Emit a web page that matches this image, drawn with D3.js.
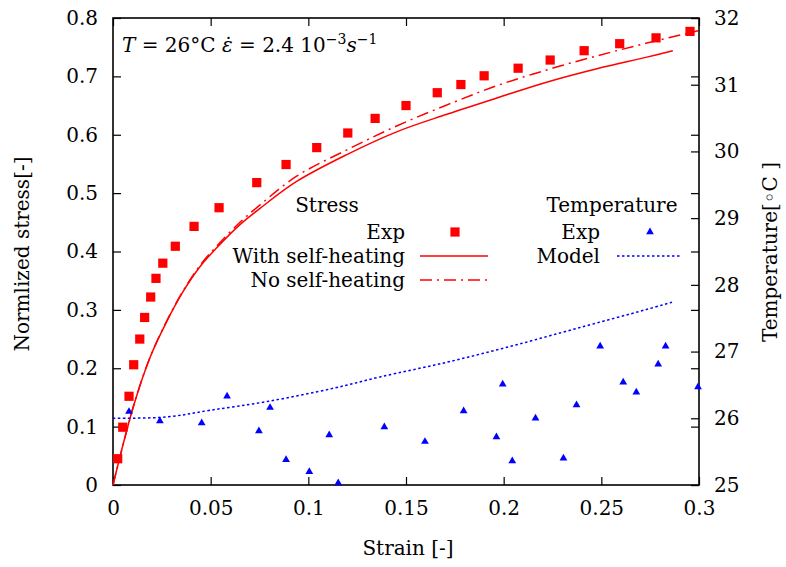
<!DOCTYPE html>
<html>
<head>
<meta charset="utf-8">
<script src="https://cdn.jsdelivr.net/npm/d3@7"></script>
<style>
body { margin: 0; background: #fff; }
</style>
</head>
<body>
<div id="chart"></div>
<script>
// experimental stress (red squares)
var stressExpStrain = [0.0024, 0.0050, 0.0082, 0.0106, 0.0137, 0.0162, 0.0193, 0.0220, 0.0255, 0.0319, 0.0415, 0.0543, 0.0736, 0.0886, 0.1043, 0.1202, 0.1342, 0.1500, 0.1660, 0.1781, 0.1900, 0.2074, 0.2238, 0.2412, 0.2594, 0.2780, 0.2954];
var stressExp = [0.045, 0.099, 0.152, 0.206, 0.250, 0.287, 0.322, 0.354, 0.380, 0.409, 0.443, 0.475, 0.518, 0.549, 0.578, 0.603, 0.628, 0.650, 0.672, 0.686, 0.701, 0.714, 0.728, 0.744, 0.756, 0.766, 0.777];

// model with self-heating (solid)
var heatStrain = [0, 0.0104, 0.019, 0.0275, 0.036, 0.0445, 0.053, 0.065, 0.0753, 0.094, 0.1197, 0.1452, 0.1709, 0.1965, 0.222, 0.2477, 0.2733, 0.2866];
var heatStress = [0, 0.134, 0.219, 0.280, 0.332, 0.374, 0.406, 0.446, 0.474, 0.520, 0.566, 0.605, 0.635, 0.663, 0.690, 0.713, 0.733, 0.744];

// model without self-heating (dash-dot)
var noHeatStrain = [0, 0.0104, 0.019, 0.0275, 0.036, 0.0445, 0.053, 0.065, 0.0753, 0.094, 0.1197, 0.1452, 0.1709, 0.1965, 0.222, 0.2477, 0.2733, 0.2995];
var noHeatStress = [0, 0.134, 0.219, 0.281, 0.333, 0.376, 0.409, 0.450, 0.480, 0.529, 0.574, 0.615, 0.651, 0.684, 0.711, 0.735, 0.757, 0.778];

// experimental temperature (blue triangles)
var tempExpStrain = [0.0082, 0.0240, 0.0454, 0.0584, 0.0747, 0.0804, 0.0886, 0.1005, 0.1107, 0.1153, 0.1389, 0.1597, 0.1795, 0.1963, 0.1995, 0.2044, 0.2163, 0.2306, 0.2373, 0.2494, 0.2612, 0.2679, 0.2791, 0.2829, 0.2995];
var tempExp = [26.10, 25.96, 25.93, 26.33, 25.81, 26.16, 25.38, 25.20, 25.75, 25.03, 25.87, 25.65, 26.11, 25.72, 26.51, 25.36, 26.00, 25.40, 26.20, 27.08, 26.54, 26.39, 26.81, 27.08, 26.47];

// model temperature (blue dotted)
var tempModelStrain = [0, 0.0275, 0.0497, 0.0787, 0.1128, 0.1367, 0.1709, 0.205, 0.239, 0.273, 0.2862];
var tempModel = [26.0, 26.02, 26.12, 26.25, 26.45, 26.62, 26.84, 27.09, 27.36, 27.63, 27.74];

var xTicks = [0, 0.05, 0.1, 0.15, 0.2, 0.25, 0.3];
var yTicks = [0, 0.1, 0.2, 0.3, 0.4, 0.5, 0.6, 0.7, 0.8];
var y2Ticks = [25, 26, 27, 28, 29, 30, 31, 32];

var width = 786, height = 567;
var margin = {top: 18, right: 87, bottom: 82, left: 113};
var red = "#ff0000", blue = "#0000ff";
var font = "DejaVu Serif";
var fontSize = 20;

var svg = d3.select("#chart").append("svg")
    .attr("width", width)
    .attr("height", height)
    .attr("font-family", font);

var x = d3.scaleLinear().domain([0, 0.3]).range([margin.left, width - margin.right]);
var y = d3.scaleLinear().domain([0, 0.8]).range([height - margin.bottom, margin.top]);
var y2 = d3.scaleLinear().domain([25, 32]).range([height - margin.bottom, margin.top]);

function fmt(d) { return String(d); }

function styleAxis(g) {
    g.attr("font-family", font).attr("font-size", fontSize);
    g.select(".domain").remove();
    g.selectAll("line").attr("stroke", "#000").attr("stroke-width", 1.2);
    g.selectAll("text").attr("font-family", font).attr("font-size", fontSize).attr("fill", "#000");
}

// axes, ticks pointing inwards like gnuplot
svg.append("g")
    .attr("transform", "translate(0," + y(0) + ")")
    .call(d3.axisBottom(x).tickValues(xTicks).tickFormat(fmt).tickSizeInner(-8).tickSizeOuter(0).tickPadding(16))
    .call(styleAxis);
svg.append("g")
    .attr("transform", "translate(0," + y(0.8) + ")")
    .call(d3.axisTop(x).tickValues(xTicks).tickFormat("").tickSizeInner(-8).tickSizeOuter(0))
    .call(styleAxis);
svg.append("g")
    .attr("transform", "translate(" + x(0) + ",0)")
    .call(d3.axisLeft(y).tickValues(yTicks).tickFormat(fmt).tickSizeInner(-8).tickSizeOuter(0).tickPadding(15))
    .call(styleAxis);
svg.append("g")
    .attr("transform", "translate(" + x(0.3) + ",0)")
    .call(d3.axisRight(y).tickValues(yTicks).tickFormat("").tickSizeInner(-8).tickSizeOuter(0))
    .call(styleAxis);
svg.append("g")
    .attr("transform", "translate(" + x(0.3) + ",0)")
    .call(d3.axisRight(y2).tickValues(y2Ticks).tickFormat(fmt).tickSizeInner(-8).tickSizeOuter(0).tickPadding(15))
    .call(styleAxis);

// plot border
svg.append("rect")
    .attr("x", x(0))
    .attr("y", y(0.8))
    .attr("width", x(0.3) - x(0))
    .attr("height", y(0) - y(0.8))
    .attr("fill", "none")
    .attr("stroke", "#000")
    .attr("stroke-width", 1.6);

// curves
function drawLine(xs, ys, yScale, color, dash) {
    var pts = xs.map(function(v, i) { return [v, ys[i]]; });
    svg.append("path")
        .datum(pts)
        .attr("fill", "none")
        .attr("stroke", color)
        .attr("stroke-width", 1.5)
        .attr("stroke-dasharray", dash)
        .attr("d", d3.line()
            .x(function(d) { return x(d[0]); })
            .y(function(d) { return yScale(d[1]); })
            .curve(d3.curveCatmullRom.alpha(0.5)));
}
drawLine(heatStrain, heatStress, y, red, null);
drawLine(noHeatStrain, noHeatStress, y, red, "12,5,2,5");
drawLine(tempModelStrain, tempModel, y2, blue, "2.5,2.5");

// points
var square = d3.symbol().type(d3.symbolSquare).size(85);
var triangle = d3.symbol().type(d3.symbolTriangle).size(26);

svg.append("g").selectAll("path")
    .data(stressExpStrain)
    .enter()
    .append("path")
    .attr("d", square)
    .attr("transform", function(d, i) { return "translate(" + x(d) + "," + y(stressExp[i]) + ")"; })
    .attr("fill", red);

svg.append("g").selectAll("path")
    .data(tempExpStrain)
    .enter()
    .append("path")
    .attr("d", triangle)
    .attr("transform", function(d, i) { return "translate(" + x(d) + "," + y2(tempExp[i]) + ")"; })
    .attr("fill", blue);

// text helper
function label(tx, ty, str, anchor, rot) {
    return svg.append("text")
        .attr("transform", "translate(" + tx + "," + ty + ")" + (rot ? " rotate(" + rot + ")" : ""))
        .attr("dy", "0.35em")
        .attr("text-anchor", anchor)
        .attr("font-family", font)
        .attr("font-size", fontSize)
        .attr("fill", "#000")
        .text(str);
}

// legend
label(327, 205, "Stress", "middle");
label(405, 232, "Exp", "end");
label(405, 256, "With self-heating", "end");
label(405, 280, "No self-heating", "end");
label(612, 205, "Temperature", "middle");
label(600, 232, "Exp", "end");
label(600, 256, "Model", "end");

svg.append("path").attr("d", square).attr("transform", "translate(455,232)").attr("fill", red);
svg.append("path").attr("d", triangle).attr("transform", "translate(650,232)").attr("fill", blue);
svg.append("line").attr("x1", 420).attr("x2", 488).attr("y1", 256).attr("y2", 256)
    .attr("stroke", red).attr("stroke-width", 1.5);
svg.append("line").attr("x1", 420).attr("x2", 488).attr("y1", 280).attr("y2", 280)
    .attr("stroke", red).attr("stroke-width", 1.5).attr("stroke-dasharray", "12,5,2,5");
svg.append("line").attr("x1", 617).attr("x2", 682).attr("y1", 256).attr("y2", 256)
    .attr("stroke", blue).attr("stroke-width", 1.5).attr("stroke-dasharray", "2.5,2.5");

// condition annotation
var note = svg.append("text")
    .attr("x", 122)
    .attr("y", 52)
    .attr("font-family", font)
    .attr("font-size", fontSize)
    .attr("fill", "#000");
note.append("tspan").attr("font-style", "italic").text("T");
note.append("tspan").text(" = 26°C ");
note.append("tspan").attr("font-style", "italic").text("ε\u0307");
note.append("tspan").text(" = 2.4 10");
note.append("tspan").attr("dy", -8).attr("font-size", 14).text("−3");
note.append("tspan").attr("dy", 8).attr("font-style", "italic").text("s");
note.append("tspan").attr("dy", -8).attr("font-size", 14).text("−1");

// axis titles
label(408, 548, "Strain [-]", "middle");
label(22, 254, "Normlized stress[-]", "middle", -90);
label(770, 252, "Temperature[◦C ]", "middle", -90);
</script>
</body>
</html>
